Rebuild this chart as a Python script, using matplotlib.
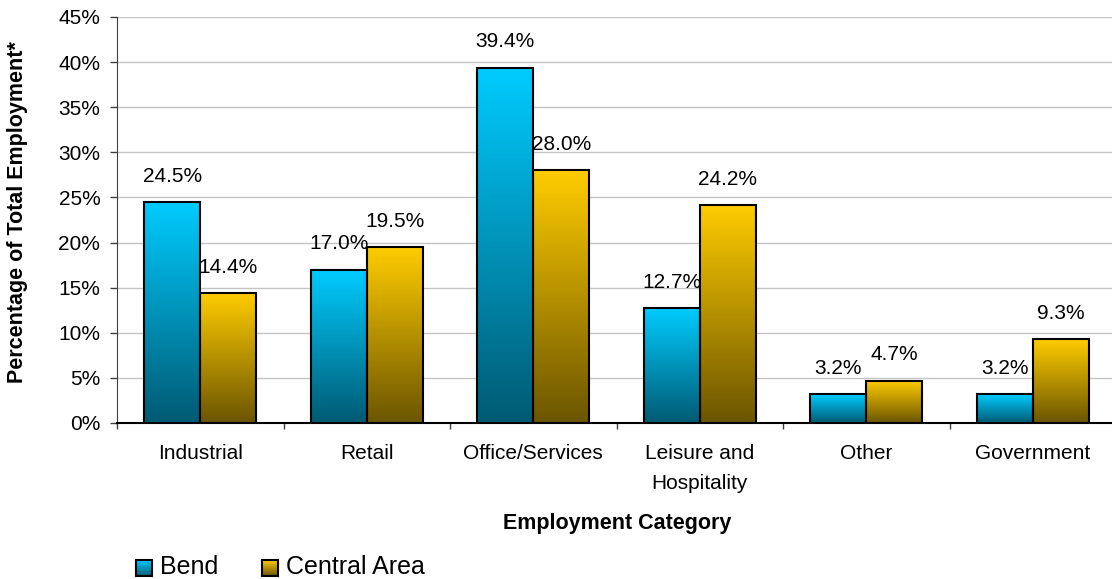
import numpy as np
import matplotlib
matplotlib.use("Agg")
import matplotlib.pyplot as plt
from matplotlib.colors import LinearSegmentedColormap
from matplotlib.patches import Rectangle

plt.rcParams['font.family'] = ['Liberation Sans', 'DejaVu Sans']

categories = ["Industrial", "Retail", "Office/Services", "Leisure and\nHospitality", "Other", "Government"]
series_names = ["Bend", "Central Area"]
bend = [24.5, 17.0, 39.4, 12.7, 3.2, 3.2]
central = [14.4, 19.5, 28.0, 24.2, 4.7, 9.3]
y_ticks = [0, 5, 10, 15, 20, 25, 30, 35, 40, 45]

# top colour -> bottom colour of each series' vertical gradient
gradients = [("#00CCFF", "#005A73"), ("#FFCC00", "#6B5500")]

W, H = 1112, 579
fig = plt.figure(figsize=(W / 100, H / 100), dpi=100)
ax = fig.add_axes([117 / W, (H - 423) / H, (1116 - 117) / W, (423 - 17) / H])

bar_w = 0.336
x = np.arange(len(categories))
grad = np.linspace(1, 0, 256).reshape(-1, 1)

for k, (vals, (top, bot)) in enumerate(zip([bend, central], gradients)):
    cmap = LinearSegmentedColormap.from_list(f"g{k}", [bot, top])
    offs = (-0.5 + k) * bar_w
    bars = ax.bar(x + offs, vals, width=bar_w, facecolor="none",
                  edgecolor="black", linewidth=1.5, zorder=4)
    for rect, v in zip(bars, vals):
        x0 = rect.get_x()
        im = ax.imshow(grad, extent=[x0, x0 + bar_w, 0, v], aspect="auto",
                       cmap=cmap, vmin=0, vmax=1, zorder=3, interpolation="bilinear")
        im.set_clip_path(rect)
        ax.annotate(f"{v:.1f}%", (x0 + bar_w / 2, v), xytext=(0, 14.5),
                    textcoords="offset points", ha="center", va="baseline",
                    fontsize=15, zorder=6)

ax.set_xlim(-0.5, len(categories) - 0.5)
ax.set_ylim(0, 45)
ax.set_yticks(y_ticks)
ax.set_yticklabels([f"{t}%" for t in y_ticks])
ax.yaxis.grid(True, color="#C4C4C4", linewidth=1)
ax.set_axisbelow(True)

ax.set_xticks(x)
ax.set_xticklabels(categories, fontsize=15, linespacing=1.75)
ax.set_xticks(np.arange(-0.5, len(categories), 1), minor=True)
ax.tick_params(axis="x", which="major", length=0, pad=15)
ax.tick_params(axis="x", which="minor", length=4.5, width=1, color="#404040")
ax.tick_params(axis="y", labelsize=15, length=5, width=1, pad=7, color="#404040")

for s in ["top", "right"]:
    ax.spines[s].set_visible(False)
ax.spines["left"].set_color("#404040")
ax.spines["bottom"].set_color("black")
ax.spines["bottom"].set_linewidth(1.5)

fig.text(18 / W, 1 - 212 / H, "Percentage of Total Employment*", rotation=90,
         ha="center", va="center", fontsize=15.5, fontweight="bold")
fig.text(617 / W, 1 - 524 / H, "Employment Category", ha="center", va="center",
         fontsize=15.5, fontweight="bold")

# legend drawn on a full-figure overlay in pixel coordinates
lg = fig.add_axes([0, 0, 1, 1])
lg.set_xlim(0, W)
lg.set_ylim(H, 0)
lg.axis("off")
for k, (name, (top, bot), sx) in enumerate(zip(series_names, gradients, [136, 262])):
    cmap = LinearSegmentedColormap.from_list(f"l{k}", [bot, top])
    sq = Rectangle((sx, 560), 16, 16, facecolor="none", edgecolor="black", linewidth=1.5, zorder=3)
    lg.add_patch(sq)
    im = lg.imshow(grad, extent=[sx, sx + 16, 576, 560], aspect="auto", cmap=cmap,
                   vmin=0, vmax=1, zorder=2, interpolation="bilinear")
    im.set_clip_path(sq)
    lg.text(sx + 24, 567, name, ha="left", va="center", fontsize=18)
lg.set_xlim(0, W)
lg.set_ylim(H, 0)

fig.savefig("out.png", dpi=100)
